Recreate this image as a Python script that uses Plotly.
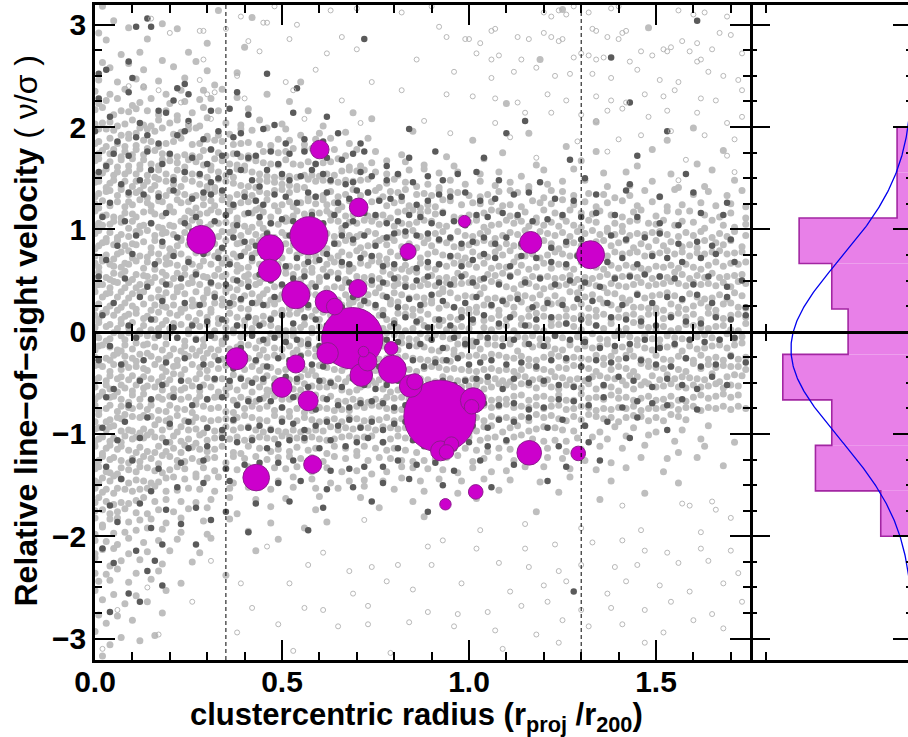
import numpy as np
import plotly.graph_objects as go

# ---------------- data ----------------
# highlighted galaxies (magenta circles): radius r/r200, velocity v/sigma, symbol size
SAT_R = [0.284, 0.601, 0.705, 0.572, 0.469, 0.467, 0.837, 0.537, 0.703, 0.619, 0.641, 0.988, 1.165, 1.325,
         0.688, 0.622, 0.718, 0.729, 0.712, 0.792, 0.795, 0.844, 0.855, 0.922, 1.011, 1.007, 0.924, 0.953, 0.940,
         0.379, 0.537, 0.500, 0.570, 0.431, 0.582, 1.018, 0.937, 1.161, 1.292]
SAT_V = [0.899, 1.780, 1.215, 0.938, 0.817, 0.598, 0.784, 0.360, 0.422, 0.294, 0.245, 1.078, 0.872, 0.752,
         -0.064, -0.211, -0.195, -0.293, -0.424, -0.162, -0.368, -0.531, -0.489, -0.825, -0.672, -0.734, -1.165, -1.099, -1.175,
         -0.264, -0.316, -0.544, -0.675, -1.426, -1.298, -1.566, -1.687, -1.184, -1.190]
SAT_SIZE = [28.6, 18.6, 18.6, 38, 26.6, 22.6, 16, 28, 18, 22.6, 16.6, 12, 22, 28,
            61.4, 21.4, 10.6, 18.6, 22.6, 13.4, 28, 22.6, 16, 72, 25.4, 14.6, 20, 14.6, 14.6,
            22, 18, 20, 20, 26.6, 18, 14.6, 11.4, 24.6, 14.6]

# histogram of the highlighted galaxies' velocities and fitted gaussian
HIST_RANGE = (-2.0, 2.0)
HIST_NBINS = 9
GAUSS_MU = -0.17
GAUSS_SIGMA = 0.87
GAUSS_PEAK = 7.5

VLINES = [0.35, 1.3]
X_TICKS = [0.0, 0.5, 1.0, 1.5]
X_TICKTEXT = ["0.0", "0.5", "1.0", "1.5"]
Y_TICKS = [-3, -2, -1, 0, 1, 2, 3]
Y_TICKTEXT = ["\u22123", "\u22122", "\u22121", "0", "1", "2", "3"]
HIST_TICKS = [9]

# background galaxies.
# line "y0: tokens"; each token = x in hundredths followed by one digit = y offset (band/10 units)
LIGHT_BANDS = """
3.1: 28 334 1255
3.0: 54 181 427
2.9: 12 97 226 1487
2.8: 35 146 302
2.7: 71 123 253 408
2.6: 23 92 185 274 1196
2.5: 48 136 219 305 383
2.4: 16 64 117 175 248 321 554
2.3: 5 42 87 139 192 236 296 347 462
2.2: 13 36 68 101 124 158 203 245 287 318 389 525 1103
2.1: 7 29 52 76 95 118 146 172 196 221 264 299 336 418 576 694
2.0: 3 24 45 61 83 107 132 151 177 204 227 252 281 309 354 392 447 503 611 748 1345
1.9: 9 18 38 57 72 93 114 129 148 166 189 213 235 258 279 301 332 363 398 427 469 518 552 604 675 856 1164 1609
1.8: 4 16 31 49 64 81 99 112 137 156 171 194 216 239 263 284 308 327 346 373 394 415 443 472 498 527 563 598 639 684 739 1017 1261 1537
1.7: 2 14 27 44 58 71 86 103 118 133 149 167 184 203 221 243 262 281 297 318 335 352 374 391 412 431 456 477 495 516 539 568 589 617 648 672 708 756 823 941 1095 1346 1498 1687
1.6: 7 19 33 46 61 78 92 109 123 138 154 172 188 207 225 241 258 276 293 312 329 347 364 383 402 419 437 455 474 493 518 534 553 576 594 615 636 659 681 712 745 787 836 883 962 1049 1183 1307 1452 1614
1.5: 3 12 25 39 53 66 84 97 114 129 143 161 178 194 211 228 246 264 283 301 318 336 353 371 389 408 426 444 462 481 501 522 541 563 583 602 624 643 667 688 707 728 756 784 813 848 889 925 976 1034 1086 1142 1208 1289 1365 1426 1544 1658
1.4: 6 17 31 45 58 72 87 102 117 133 147 163 179 197 214 232 249 267 284 302 321 339 357 375 393 412 431 448 467 486 504 523 542 561 579 597 618 637 656 678 697 718 739 761 785 809 836 862 894 921 958 994 1037 1073 1116 1162 1214 1257 1318 1372 1433 1497 1561 1632 1718
1.3: 2 15 37 48 63 79 94 116 128 141 159 175 193 208 226 244 262 273 291 309 327 345 361 384 406 423 447 465 488 509 526 549 571 592 613 637 652 674 699 713 736 758 772 797 816 839 864 885 903 928 957 976 1003 1032 1054 1087 1118 1136 1169 1201 1228 1257 1283 1325 1364 1391 1433 1478 1512 1559 1604 1647 1693 1738
1.2: 5 11 28 43 67 82 97 104 129 146 153 178 187 202 229 236 257 271 294 318 323 349 365 372 396 417 438 441 469 483 504 527 532 556 578 595 619 624 646 662 688 705 721 747 769 783 806 828 843 871 894 912 939 958 984 1016 1035 1067 1093 1114 1142 1178 1196 1225 1259 1284 1317 1342 1376 1418 1453 1497 1532 1574 1626 1663 1705 1742
1.1: 8 23 34 52 71 86 105 112 137 158 165 183 209 217 241 258 266 285 306 319 337 354 368 381 405 426 439 457 472 498 511 533 548 565 587 606 628 635 659 673 694 718 733 752 774 791 817 838 859 876 898 915 937 962 981 1004 1021 1046 1069 1088 1113 1132 1157 1181 1209 1236 1252 1279 1306 1335 1358 1384 1412 1447 1469 1503 1538 1567 1598 1634 1672 1706 1741
1.0: 3 16 24 45 58 77 91 108 123 134 156 172 181 204 213 238 253 269 287 302 315 336 357 374 388 403 422 446 451 476 495 518 529 541 563 584 597 615 639 658 661 687 706 729 748 765 788 803 826 845 867 889 908 924 943 969 986 1007 1029 1042 1064 1085 1109 1126 1148 1163 1187 1204 1227 1243 1268 1284 1302 1329 1347 1371 1396 1413 1438 1459 1486 1505 1529 1554 1578 1607 1631 1659 1684 1712 1745
0.9: 6 19 31 47 62 75 93 118 127 149 164 186 197 215 231 247 264 288 296 311 333 348 367 379 394 418 435 453 467 482 507 514 538 552 579 591 608 626 643 667 684 703 715 738 756 771 792 817 834 859 873 891 916 938 951 978 994 1013 1036 1058 1071 1094 1117 1135 1159 1172 1198 1216 1234 1257 1273 1298 1316 1339 1355 1378 1395 1418 1434 1456 1475 1497 1518 1535 1563 1587 1604 1628 1652 1676 1693 1718 1744
0.8: 1 14 27 38 55 69 84 106 115 138 152 169 184 201 224 239 255 272 283 305 326 341 359 386 397 412 428 449 464 487 493 516 535 547 568 586 604 621 647 656 679 697 712 734 757 769 785 809 823 846 862 887 904 929 947 963 982 1005 1027 1049 1066 1082 1106 1124 1143 1168 1185 1209 1226 1241 1265 1287 1304 1322 1348 1369 1384 1407 1429 1442 1466 1483 1509 1524 1548 1573 1595 1612 1639 1667 1685 1709 1733
0.7: 4 22 35 51 66 78 99 102 124 143 157 176 192 205 218 236 251 277 289 307 324 338 352 376 383 408 425 437 459 474 489 502 529 545 557 573 594 617 632 654 668 685 709 726 743 764 781 798 814 838 857 872 896 918 935 953 974 992 1018 1034 1053 1078 1095 1119 1133 1154 1176 1192 1215 1238 1256 1274 1295 1317 1333 1357 1374 1398 1416 1437 1458 1474 1496 1517 1539 1556 1578 1594 1617 1636 1658 1679 1696 1717 1738
0.6: 7 13 29 46 54 73 87 96 119 132 148 161 179 196 207 225 242 258 266 284 299 316 331 347 368 385 392 413 429 446 463 478 496 512 524 543 566 582 599 611 626 648 665 683 692 717 735 749 768 786 802 821 835 851 877 893 911 926 944 967 988 1006 1023 1047 1062 1084 1103 1128 1145 1161 1183 1207 1222 1246 1263 1281 1308 1326 1343 1361 1385 1402 1425 1443 1462 1481 1504 1523 1545 1562 1586 1603 1621 1645 1668 1684 1707 1726 1748
0.5: 2 18 33 41 57 76 89 101 116 135 144 163 188 195 212 227 246 263 278 294 303 325 344 356 371 389 404 416 434 452 468 485 499 517 536 551 569 588 603 625 638 657 671 689 704 723 744 762 779 796 813 832 849 868 881 905 922 943 961 977 996 1012 1031 1056 1075 1097 1115 1138 1151 1174 1193 1214 1232 1253 1275 1291 1313 1332 1354 1376 1393 1414 1435 1453 1477 1492 1514 1533 1558 1576 1592 1615 1633 1657 1673 1694 1715 1736
0.4: 5 16 26 43 59 68 83 98 113 126 147 158 171 189 206 223 234 257 268 286 301 317 335 352 363 381 397 419 436 448 461 484 505 513 534 556 573 587 609 622 644 663 678 695 718 727 746 763 787 805 817 836 854 875 896 915 932 948 966 987 1008 1025 1043 1069 1088 1104 1122 1146 1167 1184 1202 1224 1245 1266 1288 1303 1327 1345 1363 1387 1405 1424 1446 1468 1485 1506 1527 1549 1567 1585 1608 1626 1647 1665 1688 1704 1729 1747
0.3: 9 24 37 48 64 79 93 107 128 139 153 174 183 198 214 229 247 261 279 293 308 327 342 359 374 391 405 427 444 457 471 492 506 528 544 561 577 596 614 633 651 676 682 703 721 736 758 775 791 808 826 843 864 883 901 927 939 958 973 995 1014 1037 1052 1073 1091 1113 1136 1155 1173 1196 1211 1235 1251 1279 1298 1314 1336 1352 1378 1397 1413 1431 1457 1473 1495 1516 1538 1555 1571 1597 1614 1632 1653 1676 1692 1718 1735
0.2: 3 17 32 45 61 74 88 105 112 137 151 166 185 194 216 232 243 265 276 297 312 328 346 365 377 393 412 438 449 466 487 501 523 538 552 574 591 607 628 642 666 687 699 716 738 754 771 797 819 834 852 871 887 908 923 946 964 981 1002 1024 1046 1065 1081 1107 1124 1149 1162 1186 1203 1227 1248 1262 1284 1307 1323 1341 1368 1386 1402 1428 1444 1464 1483 1503 1521 1547 1564 1582 1605 1628 1644 1661 1687 1708 1724 1743
0.1: 6 12 28 39 56 72 85 97 118 133 145 162 179 191 208 226 239 254 271 288 304 319 333 351 368 384 401 415 433 455 473 488 509 527 548 563 585 602 619 636 658 674 691 709 725 743 766 782 801 818 837 856 872 897 912 931 954 972 989 1008 1029 1041 1063 1086 1102 1127 1143 1165 1188 1205 1221 1244 1265 1283 1306 1324 1345 1367 1382 1404 1426 1447 1463 1487 1508 1523 1546 1568 1584 1607 1622 1648 1666 1683 1706 1727 1744
0.0: 4 19 35 47 63 78 94 109 121 136 152 173 187 203 218 237 252 267 285 307 321 338 354 372 386 406 423 439 458 476 493 511 532 554 567 583 605 623 646 664 681 698 714 737 752 773 795 814 831 853 869 886 904 926 942 963 985 1003 1019 1044 1062 1085 1106 1121 1147 1166 1184 1201 1226 1247 1268 1285 1302 1329 1346 1363 1388 1401 1423 1449 1466 1484 1502 1525 1541 1563 1587 1606 1624 1643 1665 1686 1702 1721 1748
-0.1: 8 14 31 43 59 76 82 99 115 128 146 164 177 195 209 224 241 258 273 292 306 324 341 357 379 395 408 427 441 462 478 497 515 536 551 572 589 604 627 645 662 679 696 711 734 756 772 789 807 825 843 862 878 894 917 935 953 976 992 1011 1035 1053 1074 1093 1112 1135 1154 1176 1193 1212 1236 1254 1271 1295 1312 1338 1353 1372 1396 1417 1435 1452 1476 1493 1512 1536 1554 1573 1592 1615 1637 1654 1672 1698 1713 1735
-0.2: 2 16 27 45 62 71 87 103 119 137 148 165 182 198 213 231 246 263 281 296 313 332 348 363 385 398 417 434 452 469 484 503 526 542 558 576 593 614 631 653 668 687 703 722 738 757 776 793 812 829 848 866 885 902 921 944 962 978 997 1016 1033 1058 1077 1096 1118 1131 1158 1175 1197 1216 1233 1252 1277 1293 1316 1334 1356 1378 1391 1415 1432 1457 1474 1492 1516 1535 1557 1571 1596 1613 1634 1656 1677 1694 1717 1739
-0.3: 5 13 34 42 57 69 86 104 111 128 149 156 173 194 207 222 248 256 277 294 309 326 343 361 376 392 414 431 447 465 487 506 521 539 557 579 596 612 634 651 673 692 706 724 741 763 784 799 815 836 854 873 892 913 932 951 968 987 1006 1027 1045 1068 1087 1105 1124 1146 1163 1182 1205 1228 1246 1262 1285 1304 1323 1347 1364 1386 1403 1427 1446 1463 1481 1507 1523 1542 1566 1584 1602 1627 1643 1665 1682 1707 1723 1745
-0.4: 7 18 26 41 58 73 89 95 116 134 142 168 185 191 216 227 243 268 285 302 318 334 357 369 387 403 426 442 456 475 491 513 528 545 563 582 607 625 643 662 676 695 718 733 752 775 787 806 824 843 861 884 906 925 943 964 983 1002 1021 1043 1064 1082 1103 1121 1143 1167 1184 1203 1221 1245 1264 1287 1306 1324 1341 1368 1383 1406 1424 1441 1469 1486 1505 1524 1546 1563 1581 1609 1624 1648 1665 1687 1706 1726 1743
-0.5: 3 15 32 47 64 76 93 107 123 136 154 171 186 203 219 238 252 274 289 305 323 344 361 378 395 412 434 451 467 484 502 523 541 556 578 597 612 631 654 671 685 707 725 742 763 781 796 817 835 852 874 893 911 936 954 972 993 1014 1032 1051 1074 1092 1111 1137 1156 1173 1194 1213 1236 1255 1273 1294 1312 1336 1357 1375 1394 1412 1437 1456 1471 1497 1513 1538 1554 1576 1595 1614 1633 1659 1671 1696 1718 1737
-0.6: 6 21 38 44 61 78 85 102 118 135 147 166 183 199 214 233 245 267 282 298 316 331 354 366 383 407 421 446 463 472 495 516 534 553 569 587 606 626 647 663 681 703 716 738 759 774 791 813 832 846 867 885 907 928 945 966 986 1007 1028 1044 1066 1089 1108 1126 1149 1168 1185 1209 1226 1244 1268 1287 1305 1329 1344 1367 1386 1402 1428 1444 1468 1489 1506 1527 1549 1566 1585 1608 1626 1647 1669 1685 1708 1727
-0.7: 4 17 29 46 57 74 91 108 124 139 153 176 184 207 219 234 256 273 287 304 326 337 358 373 396 414 432 455 468 487 504 524 547 564 579 598 615 637 652 672 694 713 731 754 772 786 805 826 844 863 881 903 924 941 965 982 1003 1025 1046 1063 1084 1104 1127 1148 1163 1186 1207 1224 1248 1263 1283 1309 1325 1346 1364 1388 1405 1426 1443 1465 1487 1503 1524 1547 1563 1582 1606 1628 1645 1667 1689 1706 1728
-0.8: 8 13 35 48 62 77 96 105 127 144 158 173 192 208 225 244 261 279 297 315 336 352 371 389 405 427 445 467 483 506 522 545 561 583 606 625 643 664 683 707 726 748 767 785 803 824 847 865 886 904 927 945 966 986 1005 1027 1048 1066 1087 1109 1126 1147 1166 1188 1205 1227 1248 1264 1285 1307 1326 1343 1365 1384 1406 1425 1447 1463 1485 1505 1526 1548 1564 1586 1607 1623 1646 1665 1687 1704 1727 1745
-0.9: 2 19 32 44 66 75 89 107 126 138 157 174 193 205 228 243 262 276 295 313 334 355 373 386 408 426 444 463 488 505 527 543 566 584 602 624 645 662 686 705 723 745 764 786 803 825 846 862 884 907 923 946 965 984 1008 1026 1043 1067 1085 1106 1124 1147 1163 1189 1206 1228 1245 1263 1287 1304 1329 1347 1365 1386 1402 1426 1448 1467 1483 1506 1523 1549 1567 1584
-1.0: 5 16 34 47 58 73 94 103 121 135 152 169 184 207 222 237 254 275 291 306 323 342 357 374 396 417 434 452 475 493 512 534 552 573 594 613 637 654 676 695 717 736 754 777 796 815 836 857 876 897 917 938 953 976 1001 1023 1047 1068 1092 1116 1138 1163 1185 1207 1236 1254 1283 1318 1352 1397 1446 1502 1574 1648
-1.1: 3 15 27 43 56 72 88 105 117 136 149 167 186 202 218 233 255 271 289 304 326 348 365 387 404 426 447 466 485 508 527 546 564 587 605 624 645 667 688 706 727 748 772 795 818 836 857 875 898 918 942 963 984 1007 1034 1056 1077 1103 1127 1149 1175 1203 1234 1263 1296 1337 1375 1428 1489 1553 1625 1712
-1.2: 8 21 36 49 65 78 94 112 127 143 162 178 193 216 232 249 267 285 303 325 348 372 391 418 446 473 495 523 547 574 596 621 648 676 703 728 756 784 806 834 862 889 913 938 966 996 1024 1053 1086 1115 1147 1182 1216 1263 1305 1358 1416 1479 1562 1638
-1.3: 2 14 28 45 57 74 92 106 123 138 156 171 189 208 224 243 266 283 306 327 352 378 406 438 465 497 528 556 587 613 648 676 709 734 767 796 824 853 884 915 947 979 1013 1046 1087 1124 1168 1217 1256 1314 1382 1467 1536 1617
-1.4: 6 18 33 42 61 77 95 113 128 147 164 182 205 228 246 271 297 324 356 385 418 452 487 516 548 583 627 663 704 741 783 828 857 896 935 972 1017 1063 1104 1158 1208 1276 1345 1427 1523 1689
-1.5: 4 12 27 44 59 76 92 115 134 152 173 197 218 246 278 307 338 372 413 457 494 538 586 632 684 725 774 827 874 926 984 1046 1115 1193 1278 1384 1562
-1.6: 7 23 36 52 67 86 104 126 147 169 194 225 257 286 324 367 418 476 538 597 657 729 806 884 972 1085 1243 1472
-1.7: 3 18 34 51 73 92 115 138 164 196 234 273 316 368 436 517 609 718 854 1027 1356
-1.8: 5 26 42 64 87 113 142 176 214 257 308 382 479 596 768 1184
-1.9: 8 21 47 68 94 126 157 193 238 295 367 473 624 889
-2.0: 2 29 53 84 116 148 187 234 302 415 568
-2.1: 6 35 62 98 134 176 227 318 497
-2.2: 3 27 58 93 145 206 284 436
-2.3: 9 41 76 127 183 265
-2.4: 4 33 68 114 176 352
-2.5: 16 47 95 158 234
-2.6: 7 53 112 197
-2.7: 28 84 146
-2.8: 13 62 185
-2.9: 35 108
-3.0: 7 71 163
-3.1: 44 128
-3.2: 23
"""

DARK_BANDS = """
3.0: 143 1612
2.8: 119 159 723
2.6: 92 1384
2.4: 16 38 104 241 466
2.2: 14 97 213 229 256 387 549 1432
2.0: 45 122 178 197 253 318 369 416 481 537 625 1153
1.8: 8 63 115 146 172 226 248 294 338 375 397 459 512 564 613 657 712 849 1107 1538
1.6: 31 57 96 148 182 207 265 302 319 346 387 415 436 478 492 527 568 592 625 664 697 728 781 845 918 1045 1274 1456
1.4: 18 72 124 159 214 248 287 313 335 368 399 424 441 469 507 524 556 589 617 634 672 693 718 746 784 817 853 896 934 977 1028 1084 1193 1315 1432 1587
1.2: 43 98 137 176 219 265 298 317 349 372 406 434 452 487 516 543 578 596 628 653 685 709 738 764 795 826 862 894 927 956 998 1034 1075 1127 1168 1235 1284 1347 1429 1516 1608 1693
1.0: 26 84 153 198 243 276 324 357 382 418 446 473 505 534 561 587 613 647 672 694 728 757 783 814 847 876 903 938 964 992 1027 1056 1098 1137 1174 1215 1257 1306 1348 1397 1456 1513 1562 1628 1687
0.8: 62 117 184 226 269 305 341 376 404 432 468 491 527 553 582 604 643 667 695 727 752 786 808 839 867 898 925 956 983 1014 1046 1073 1106 1143 1182 1221 1264 1305 1342 1387 1425 1476 1518 1563 1614 1652 1705
0.6: 35 108 163 217 254 298 336 363 397 426 457 486 512 546 574 605 628 664 683 716 747 772 803 836 861 894 923 957 982 1015 1048 1076 1112 1147 1186 1224 1263 1297 1336 1374 1416 1453 1497 1536 1574 1626 1668 1714
0.4: 17 86 142 193 236 278 314 353 385 412 448 475 503 536 567 592 627 656 684 713 745 774 806 832 865 897 924 953 987 1014 1046 1083 1117 1154 1196 1233 1275 1314 1352 1396 1437 1478 1517 1556 1603 1647 1692 1735
0.2: 54 127 185 244 283 327 364 396 424 453 487 516 548 573 605 634 662 697 725 753 787 812 846 873 908 935 962 994 1027 1063 1095 1136 1172 1214 1253 1296 1335 1374 1413 1458 1494 1537 1576 1618 1654 1697 1742
0.0: 28 93 156 212 263 305 346 383 417 443 476 508 534 567 596 623 655 687 712 746 778 804 837 865 892 926 953 987 1016 1048 1084 1117 1153 1186 1227 1264 1306 1343 1387 1426 1465 1503 1547 1585 1624 1667 1706 1748
-0.2: 43 117 178 227 276 318 357 392 428 456 487 515 546 574 603 637 664 692 723 754 786 815 843 874 906 932 967 994 1025 1057 1093 1126 1164 1203 1238 1276 1315 1352 1393 1434 1476 1512 1554 1596 1635 1676 1717
-0.4: 16 74 136 195 247 294 336 372 408 436 463 497 526 558 584 613 646 675 704 736 763 795 824 856 883 915 946 977 1004 1035 1066 1104 1145 1183 1226 1267 1303 1346 1385 1427 1466 1504 1543 1587 1623 1664 1708 1745
-0.6: 52 126 184 236 283 327 366 397 425 457 484 518 547 573 606 635 663 697 724 752 784 816 847 875 903 936 964 996 1027 1058 1092 1127 1165 1206 1244 1283 1327 1364 1408 1446 1493 1537 1574 1612 1658 1694
-0.8: 38 94 157 218 264 307 348 384 416 447 476 503 538 564 592 627 654 683 715 746 775 803 834 867 894 926 953 987 1016 1045 1084 1125 1162 1203 1247 1286 1324 1368 1413 1456 1495 1534 1577 1612
-1.0: 23 86 148 205 256 303 342 377 413 444 472 506 535 562 594 626 654 687 713 746 772 805 836 863 897 924 958 986 1014 1053 1087 1126 1168 1213 1257 1314 1376 1458 1532
-1.2: 67 128 196 253 304 348 386 427 463 495 527 568 603 637 674 706 738 776 813 857 884 925 963 1006 1054 1107 1163 1244 1326 1438
-1.4: 34 107 173 236 297 353 405 446 496 537 586 632 683 724 774 817 865 916 962 1037 1125 1264 1357
-1.6: 78 152 224 296 367 438 496 557 623 694 776 848 935 1064 1217
-1.8: 45 126 193 274 352 436 527 614 747 892
-2.0: 67 154 236 318 412 573
-2.2: 24 113 186 276
-2.4: 57 143 168
-2.6: 92 186 1283
-2.8: 43 128
"""

OPEN_BANDS = """
3.0: 153 394 451 461 489 540 637 708 826 909 1206 1224 1247 1265 1289 1326 1388 1409 1567 1605 1636 1694
2.8: 206 287 297 358 412 523 664 929 944 993 1003 1031 1067 1078 1134 1163 1206 1224 1242 1253 1338 1347 1374 1403 1416 1427 1572 1611 1676 1705
2.6: 293 447 626 708 863 1026 1063 1085 1143 1284 1306 1325 1343 1364 1432 1467 1495 1528 1537 1549 1597 1612 1623 1658 1736
2.4: 90 130 283 385 512 598 742 967 1064 1127 1189 1235 1276 1336 1384 1458 1513 1562 1647 1685 1723
2.2: 178 232 306 327 404 538 663 828 946 1015 1074 1132 1216 1263 1345 1383 1422 1476 1525 1558 1624 1663 1738
2.0: 251 314 564 712 883 1072 1157 1227 1306 1343 1378 1419 1485 1538 1617 1692 1735
1.8: 957 1115 1293 1404 1466 1548 1636 1714
1.6: 1185 1378 1584 1696
1.4: 1564 1718
-1.8: 1415 1576 1595 1657 1663
-2.0: 728 1033 1156 1304 1463 1622 1709
-2.2: 465 612 895 938 1024 1154 1236 1337 1418 1473 1532 1624 1703
-2.4: 318 576 683 745 816 906 1087 1165 1243 1306 1395 1456 1567 1648 1722
-2.6: 145 397 527 692 788 854 987 1113 1206 1268 1372 1428 1516 1593 1687
-2.8: 64 268 425 565 614 736 893 972 1053 1146 1218 1304 1385 1474 1548 1652 1738
-3.0: 172 383 497 656 737 848 966 1074 1182 1259 1326 1417 1523 1609 1685
-3.2: 25 534 793 1095 1248 1478
"""


def parse_bands(spec, band_height):
    xs, ys = [], []
    for line in spec.strip().splitlines():
        y0, toks = line.split(":")
        y0 = float(y0)
        for t in toks.split():
            xs.append(int(t[:-1] or 0) / 100.0)
            ys.append(y0 + int(t[-1]) * band_height / 10.0)
    return xs, ys


light_x, light_y = parse_bands(LIGHT_BANDS, 0.1)
dark_x, dark_y = parse_bands(DARK_BANDS, 0.2)
open_x, open_y = parse_bands(OPEN_BANDS, 0.2)

# ---------------- geometry ----------------
W, H = 908, 737
ML, MR, MT, MB = 95, 0, 5, 77
PW = W - ML - MR
PH = H - MT - MB
SPLIT = (749.5 - ML) / PW
XR = [0, 1.75]
YR = [-3.209, 3.193]
ZERO_POS = (0 - YR[0]) / (YR[1] - YR[0])
HR = [10.04, 0.331]   # histogram count axis, reversed (bars grow leftwards)

FONT = "Liberation Sans, Arial, sans-serif"
LW = 2.5

counts, edges = np.histogram(SAT_V, bins=HIST_NBINS, range=HIST_RANGE)
centers = 0.5 * (edges[:-1] + edges[1:])
step_x, step_y = [0], [edges[0]]
for i, c in enumerate(counts):
    step_x += [c, c]
    step_y += [edges[i], edges[i + 1]]
step_x.append(0)
step_y.append(edges[-1])

gy = np.linspace(YR[0], YR[1], 500)
gx = GAUSS_PEAK * np.exp(-0.5 * ((gy - GAUSS_MU) / GAUSS_SIGMA) ** 2)

order = np.argsort(SAT_SIZE)[::-1]

fig = go.Figure()
fig.add_trace(go.Scatter(x=light_x, y=light_y, mode="markers",
                         marker=dict(size=7, color="#BEBEBE", line=dict(width=0)),
                         hoverinfo="skip"))
fig.add_trace(go.Scatter(x=dark_x, y=dark_y, mode="markers",
                         marker=dict(size=6.5, color="#5A5A5A", line=dict(width=0)),
                         hoverinfo="skip"))
fig.add_trace(go.Scatter(x=open_x, y=open_y, mode="markers",
                         marker=dict(size=5, symbol="circle-open", color="#B0B0B0",
                                     line=dict(width=0.9, color="#B0B0B0")),
                         hoverinfo="skip"))
fig.add_trace(go.Scatter(x=[SAT_R[i] for i in order], y=[SAT_V[i] for i in order], mode="markers",
                         marker=dict(size=[SAT_SIZE[i] for i in order], sizemode="diameter",
                                     color="#CC00CC", opacity=1,
                                     line=dict(width=1, color="#8E1A8E")),
                         hoverinfo="skip"))

# histogram panel
fig.add_trace(go.Bar(x=counts, y=centers, orientation="h", width=edges[1] - edges[0],
                     marker=dict(color="#E880E8", line=dict(width=0)),
                     xaxis="x2", yaxis="y2", hoverinfo="skip"))
fig.add_trace(go.Scatter(x=step_x, y=step_y, mode="lines",
                         line=dict(color="#A226A2", width=1.6),
                         xaxis="x2", yaxis="y2", hoverinfo="skip"))
fig.add_trace(go.Scatter(x=gx, y=gy, mode="lines", line=dict(color="#0000EE", width=1.3),
                         xaxis="x2", yaxis="y2", hoverinfo="skip"))

# empty traces to register overlay axes (zero line with crossing ticks, right-edge ticks)
for xa, ya in [("x3", "y"), ("x4", "y"), ("x5", "y2"), ("x6", "y2"), ("x2", "y3")]:
    fig.add_trace(go.Scatter(x=[], y=[], xaxis=xa, yaxis=ya, hoverinfo="skip"))

tickfont = dict(family=FONT, size=30, color="black", weight="bold")
base = dict(showgrid=False, zeroline=False, linecolor="black", linewidth=LW,
            tickcolor="black", tickwidth=2)

fig.update_layout(
    width=W, height=H, margin=dict(l=ML, r=MR, t=MT, b=MB, autoexpand=False),
    paper_bgcolor="white", plot_bgcolor="white", showlegend=False, hovermode=False,
    xaxis=dict(domain=[0, SPLIT], range=XR, anchor="y", showline=True, mirror="ticks", ticks="inside",
               ticklen=20, tickmode="array", tickvals=X_TICKS, ticktext=X_TICKTEXT, tickfont=tickfont,
               ticklabelstandoff=-7,
               minor=dict(tickmode="linear", tick0=0, dtick=0.1, ticks="inside", ticklen=8,
                          tickwidth=2, tickcolor="black"), **base),
    yaxis=dict(domain=[0, 1], range=YR, anchor="x", showline=True, mirror="ticks", ticks="inside",
               ticklen=20, tickmode="array", tickvals=Y_TICKS, ticktext=Y_TICKTEXT, tickfont=tickfont,
               minor=dict(tickmode="linear", tick0=0, dtick=0.25, ticks="inside", ticklen=7,
                          tickwidth=2, tickcolor="black"), **base),
    xaxis2=dict(domain=[SPLIT, 1], range=HR, anchor="y2", showline=True, mirror="ticks", ticks="inside",
                ticklen=8, tickmode="array", tickvals=HIST_TICKS, showticklabels=False, **base),
    yaxis2=dict(domain=[0, 1], range=YR, anchor="x2", showline=False, ticks="inside", ticklen=20,
                tickmode="array", tickvals=Y_TICKS, showticklabels=False,
                minor=dict(tickmode="linear", tick0=0, dtick=0.25, ticks="inside", ticklen=7,
                           tickwidth=2, tickcolor="black"), **base),
    yaxis3=dict(overlaying="y2", side="right", anchor="x2", range=YR, showline=False, ticks="inside",
                ticklen=15, tickmode="array", tickvals=Y_TICKS, showticklabels=False,
                minor=dict(tickmode="linear", tick0=0, dtick=0.25, ticks="inside", ticklen=2.5,
                           tickwidth=2, tickcolor="black"), **base),
    xaxis3=dict(overlaying="x", anchor="free", position=ZERO_POS, domain=[0, SPLIT], range=XR,
                showline=True, ticks="outside", ticklen=20, tickmode="array", tickvals=X_TICKS,
                showticklabels=False,
                minor=dict(tickmode="linear", tick0=0, dtick=0.1, ticks="outside", ticklen=8,
                           tickwidth=2, tickcolor="black"), **base),
    xaxis4=dict(overlaying="x", anchor="free", position=ZERO_POS, domain=[0, SPLIT], range=XR,
                showline=False, ticks="inside", ticklen=20, tickmode="array", tickvals=X_TICKS,
                showticklabels=False,
                minor=dict(tickmode="linear", tick0=0, dtick=0.1, ticks="inside", ticklen=8,
                           tickwidth=2, tickcolor="black"), **base),
    xaxis5=dict(overlaying="x2", anchor="free", position=ZERO_POS, domain=[SPLIT, 1], range=HR,
                showline=True, ticks="outside", ticklen=8, tickmode="array", tickvals=HIST_TICKS,
                showticklabels=False, **base),
    xaxis6=dict(overlaying="x2", anchor="free", position=ZERO_POS, domain=[SPLIT, 1], range=HR,
                showline=False, ticks="inside", ticklen=8, tickmode="array", tickvals=HIST_TICKS,
                showticklabels=False, **base),
)

for xv in VLINES:
    fig.add_shape(type="line", xref="x", yref="paper", x0=xv, x1=xv, y0=0, y1=1,
                  line=dict(color="black", width=1, dash="4px,3px"), layer="above")

fig.add_annotation(text="<b>clustercentric radius (r<sub>proj</sub> /r<sub>200</sub>)</b>",
                   xref="paper", yref="paper", x=(416.5 - ML) / PW, y=(H - MB - 717) / PH,
                   xanchor="center", yanchor="middle", showarrow=False,
                   font=dict(family=FONT, size=31, color="black"))
fig.add_annotation(text="<b>Relative line\u2212of\u2212sight velocity</b> ( \u03bd/\u03c3 )",
                   xref="paper", yref="paper", x=(25 - ML) / PW, y=(H - MB - 331.5) / PH,
                   xanchor="center", yanchor="middle", showarrow=False, textangle=-90,
                   font=dict(family=FONT, size=32, color="black"))

fig.write_html("out.html", config={"displayModeBar": False},
               post_script="document.body.style.margin='0';document.body.style.padding='0';")
